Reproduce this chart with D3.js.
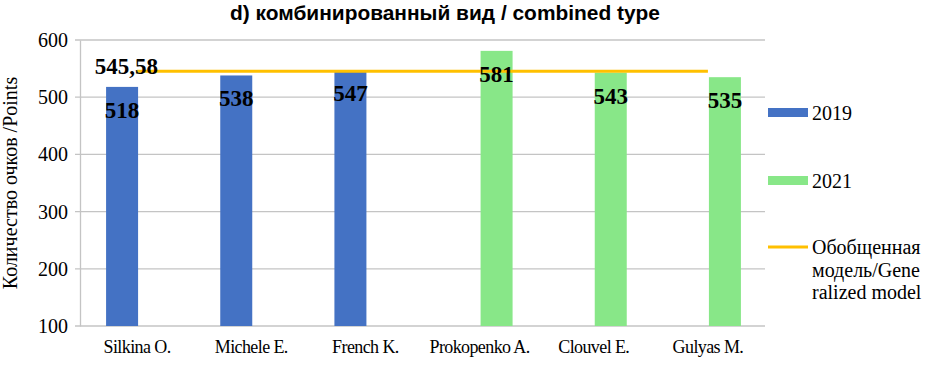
<!DOCTYPE html>
<html><head><meta charset="utf-8">
<script src="https://cdn.jsdelivr.net/npm/d3@7"></script>
<style>body{margin:0;background:#fff}svg{display:block}</style>
</head><body><svg id="c" width="926" height="368"></svg>
<script>
const categories = ["Silkina O.","Michele E.","French K.","Prokopenko A.","Clouvel E.","Gulyas M."];
const series2019 = [518, 538, 547, null, null, null];
const series2021 = [null, null, null, 581, 543, 535];
const modelValue = 545.58;
const modelLabel = "545,58";
const yTicks = [100,200,300,400,500,600];
const seriesNames = ["2019","2021"];
const legendModel = ["Обобщенная","модель/Gene","ralized model"];

const svg = d3.select("#c");
const m = {l:80, r:161, t:40, b:42};
const W = 926, H = 368;
const x = d3.scaleBand().domain(categories).range([m.l, W-m.r]).paddingInner(0).paddingOuter(0);
const y = d3.scaleLinear().domain([100,600]).range([H-m.b, m.t]);
const bw = x.bandwidth();
const x1 = d3.scaleBand().domain(seriesNames).range([bw/2-31, bw/2+33]).padding(0);
const colors = {"2019":"#4472C4","2021":"#88E788"};
const serif = "Liberation Serif, Times New Roman, serif";

// gridlines
svg.append("g").selectAll("line").data(yTicks).join("line")
  .attr("x1", m.l-5).attr("x2", W-m.r).attr("y1", d=>y(d)).attr("y2", d=>y(d))
  .attr("stroke","#c4c4c4").attr("stroke-width",1.3);
// y axis
const ya = svg.append("g").attr("transform",`translate(${m.l},0)`)
  .attr("font-family", serif)
  .call(d3.axisLeft(y).tickValues(yTicks).tickSize(0).tickPadding(12));
ya.attr("font-family", serif).attr("font-size",20);
ya.select(".domain").attr("stroke","#c4c4c4").attr("stroke-width",1.3);
ya.selectAll("text").style("font-family",serif).style("font-size","20px").attr("fill","#000");

// bars
const rows = categories.map((c,i)=>({c, v:[["2019",series2019[i]],["2021",series2021[i]]]}));
const g = svg.append("g");
rows.forEach(r=>{
  r.v.forEach(([s,v])=>{
    if(v==null) return;
    g.append("rect").attr("x", x(r.c)+x1(s)).attr("width", x1.bandwidth())
      .attr("y", y(v)).attr("height", y(100)-y(v)).attr("fill", colors[s]);
  });
});
// model line
const cx = c => x(c)+bw/2;
svg.append("line").attr("x1", cx(categories[0])).attr("x2", cx(categories[categories.length-1]))
  .attr("y1", y(modelValue)).attr("y2", y(modelValue)).attr("stroke","#FFC000").attr("stroke-width",3);
// labels
rows.forEach(r=>{
  r.v.forEach(([s,v])=>{
    if(v==null) return;
    svg.append("text").attr("x", x(r.c)+x1(s)+x1.bandwidth()/2).attr("y", y(v)+31)
      .attr("text-anchor","middle").style("font-family",serif).attr("font-weight","bold")
      .attr("font-size",23).attr("fill","#000").text(v);
  });
});
svg.append("text").attr("x", cx(categories[0])+21).attr("y", y(modelValue)+3).attr("text-anchor","end")
  .style("font-family",serif).attr("font-weight","bold").attr("font-size",23).text(modelLabel);

// x labels
svg.append("g").selectAll("text").data(categories).join("text")
  .attr("x", d=>cx(d)).attr("y", 353).attr("text-anchor","middle")
  .style("font-family",serif).attr("font-size",18).attr("letter-spacing",-0.6).text(d=>d);

// y title
svg.append("text").attr("transform","translate(17,183) rotate(-90)").attr("text-anchor","middle")
  .style("font-family",serif).attr("font-size",20).text("Количество очков /Points");

// title
svg.append("text").attr("x",445).attr("y",20).attr("text-anchor","middle")
  .style("font-family","Liberation Sans, Arial, sans-serif").attr("font-weight","bold").attr("font-size",20)
  .attr("textLength",430).attr("lengthAdjust","spacingAndGlyphs")
  .text("d) комбинированный вид / combined type");

// legend
const lg = svg.append("g");
[["2019",108],["2021",176]].forEach(([s,yy])=>{
  lg.append("rect").attr("x",768).attr("y",yy).attr("width",40).attr("height",9).attr("fill",colors[s]);
  lg.append("text").attr("x",812).attr("y",yy+12).style("font-family",serif).attr("font-size",20).text(s);
});
lg.append("line").attr("x1",768).attr("x2",808).attr("y1",247).attr("y2",247).attr("stroke","#FFC000").attr("stroke-width",3);
legendModel.forEach((t,i)=>{
  lg.append("text").attr("x",812).attr("y",254+i*22.5).style("font-family",serif).attr("font-size",20).text(t);
});
</script></body></html>
